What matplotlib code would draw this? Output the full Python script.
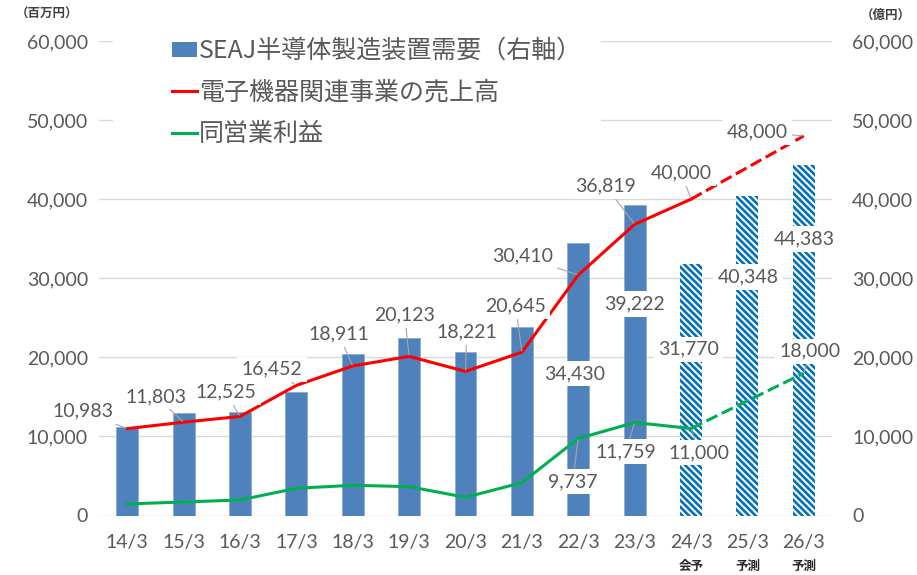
import matplotlib
matplotlib.use('Agg')
import matplotlib.pyplot as plt
from matplotlib.patches import Rectangle, Patch
from matplotlib.lines import Line2D
from matplotlib.ticker import FuncFormatter

# ---------------- data ----------------
periods = ['14/3', '15/3', '16/3', '17/3', '18/3', '19/3', '20/3',
           '21/3', '22/3', '23/3', '24/3', '25/3', '26/3']
period_notes = ['', '', '', '', '', '', '', '', '', '', '会予', '予測', '予測']

# SEAJ semiconductor equipment demand (right axis, 億円)
seaj_demand = [11250, 12930, 13140, 15660, 20400, 22420, 20690,
               23800, 34430, 39222, 31770, 40348, 44383]
seaj_labelled = [False] * 8 + [True] * 5
forecast = [False] * 10 + [True] * 3

# Electronic equipment business sales (left axis, 百万円)
sales = [10983, 11803, 12525, 16452, 18911, 20123, 18221,
         20645, 30410, 36819, 40000, 44000, 48000]
sales_labelled = [True] * 11 + [False, True]

# Operating profit (left axis, 百万円)
op_profit = [1460, 1710, 1960, 3440, 3820, 3650, 2300,
             4150, 9737, 11759, 11000, 14500, 18000]
op_labelled = [False] * 8 + [True, True, True, False, True]

n_actual = 11  # solid line up to 24/3, dashed afterwards

legend_labels = ['SEAJ半導体製造装置需要（右軸）', '電子機器関連事業の売上高', '同営業利益']

# label placement (x in category units, y in axis units)
sales_label_pos = [(-0.78, 13200), (0.51, 15060), (1.75, 15570), (2.57, 18480),
                   (3.75, 22910), (4.92, 25320), (6.02, 23160), (6.89, 26460),
                   (7.01, 32780), (8.49, 41650), (9.83, 43290), None, (11.17, 48480)]
op_label_pos = [None] * 8 + [(7.90, 4300), (8.84, 8100), (10.14, 7970), None, (12.11, 20760)]
bar_label_pos = [None] * 8 + [(7.94, 17970), (9.0, 26710), (9.96, 21010), (11.01, 30130), (12.0, 34940)]

# ---------------- style ----------------
TXT = '#595959'
NUMFONT = ['Lato', 'DejaVu Sans']
JPFONT = ['Noto Sans CJK JP', 'DejaVu Sans']
BAR_BLUE = '#4F81BD'
HATCH_BLUE = '#0070C0'
RED = '#FF0000'
GREEN = '#00B050'

plt.rcParams['hatch.linewidth'] = 1.9

W, H = 917, 575
fig = plt.figure(figsize=(W / 100, H / 100), dpi=100)
ax_r = fig.add_axes([99 / W, 1 - 515.5 / H, (832 - 99) / W, (515.5 - 41) / H])
ax_l = ax_r.twinx()

x = list(range(len(periods)))

# bars on the right-axis scale
for i, v in enumerate(seaj_demand):
    if forecast[i]:
        ax_r.bar(i, v, width=0.39, facecolor='white', edgecolor=HATCH_BLUE,
                 linewidth=0, hatch='\\\\\\\\\\', zorder=2)
    else:
        ax_r.bar(i, v, width=0.39, color=BAR_BLUE, edgecolor='#8EABD6',
                 linewidth=0.6, zorder=2)

for a in (ax_r, ax_l):
    a.set_ylim(0, 60000)
    a.set_xlim(-0.5, len(periods) - 0.5)
    for s in a.spines.values():
        s.set_visible(False)

ax_r.set_yticks(range(0, 60001, 10000))
ax_l.set_yticks(range(0, 60001, 10000))
ax_r.yaxis.grid(True, color='#D9D9D9', linewidth=1.0, zorder=0)
ax_r.set_axisbelow(True)

# ax_r holds bars -> its ticks on the right; ax_l holds lines -> ticks on left
ax_r.yaxis.tick_right()
ax_l.yaxis.tick_left()
fmt = lambda v, p: f'{int(v):,}'
ax_r.yaxis.set_major_formatter(FuncFormatter(fmt))
ax_l.yaxis.set_major_formatter(FuncFormatter(fmt))
ax_r.tick_params(axis='y', length=0, pad=14.5, labelsize=14, labelcolor=TXT)
ax_l.tick_params(axis='y', length=0, pad=8, labelsize=14, labelcolor=TXT)
for lab in ax_r.get_yticklabels() + ax_l.get_yticklabels():
    lab.set_family(NUMFONT)

ax_r.set_xticks(x)
ax_r.set_xticklabels(periods)
ax_r.tick_params(axis='x', length=0, pad=13, labelsize=14, labelcolor=TXT)
for lab in ax_r.get_xticklabels():
    lab.set_family(NUMFONT)
ax_l.tick_params(axis='x', length=0, labelbottom=False)

for i, note in enumerate(period_notes):
    if note:
        ax_r.text(i, -0.107, note, transform=ax_r.get_xaxis_transform(),
                  ha='center', va='center', fontsize=9, fontweight='bold',
                  color='#262626', family=JPFONT)

# lines on the left-axis scale
ax_l.plot(x[:n_actual], sales[:n_actual], color=RED, lw=2.2, zorder=3,
          solid_joinstyle='round')
ax_l.plot(x[n_actual - 1:], sales[n_actual - 1:], color=RED, lw=2.2,
          dashes=(4, 1.6), zorder=3)
ax_l.plot(x[:n_actual], op_profit[:n_actual], color=GREEN, lw=2.2, zorder=3,
          solid_joinstyle='round')
ax_l.plot(x[n_actual - 1:], op_profit[n_actual - 1:], color=GREEN, lw=2.2,
          dashes=(4, 1.6), zorder=3)

box = dict(boxstyle='square,pad=0.22', facecolor='white', edgecolor='none')
lead = dict(arrowstyle='-', color='#A6A6A6', lw=0.8, shrinkA=0, shrinkB=1)


def label_point(values, flags, positions):
    for i, v in enumerate(values):
        if flags[i] and positions[i] is not None:
            ax_l.annotate(f'{v:,}', xy=(i, v), xytext=positions[i],
                          textcoords='data', ha='center', va='center',
                          fontsize=14, color=TXT, family=NUMFONT,
                          bbox=box, arrowprops=lead, zorder=6,
                          annotation_clip=False)


label_point(sales, sales_labelled, sales_label_pos)
label_point(op_profit, op_labelled, op_label_pos)
for i, v in enumerate(seaj_demand):
    if seaj_labelled[i] and bar_label_pos[i] is not None:
        ax_l.text(bar_label_pos[i][0], bar_label_pos[i][1], f'{v:,}',
                  ha='center', va='center', fontsize=14, color=TXT,
                  family=NUMFONT, bbox=box, zorder=6)

# legend (white block hiding gridlines)
fig.patches.append(Rectangle((113 / W, 1 - 170 / H), (601 - 113) / W, 150 / H,
                             transform=fig.transFigure, facecolor='white',
                             edgecolor='none', zorder=5))
handles = [Patch(facecolor=BAR_BLUE, edgecolor='none'),
           Line2D([], [], color=RED, lw=2.2),
           Line2D([], [], color=GREEN, lw=2.2)]
leg = fig.legend(handles, legend_labels, loc='upper left',
                 bbox_to_anchor=(172 / W, 1 - 38 / H), frameon=False,
                 prop={'family': JPFONT, 'size': 18},
                 handlelength=0.98, handleheight=0.55, handletextpad=0.1,
                 labelspacing=0.62, borderpad=0, borderaxespad=0)
for t in leg.get_texts():
    t.set_color(TXT)
leg.set_zorder(7)

# unit labels
fig.text(47 / W, 1 - 14 / H, '（百万円）', ha='center', va='center',
         fontsize=9, fontweight='bold', color='#404040', family=JPFONT)
fig.text(886 / W, 1 - 15 / H, '（億円）', ha='center', va='center',
         fontsize=9, fontweight='bold', color='#404040', family=JPFONT)

fig.savefig('out.png', dpi=100)
